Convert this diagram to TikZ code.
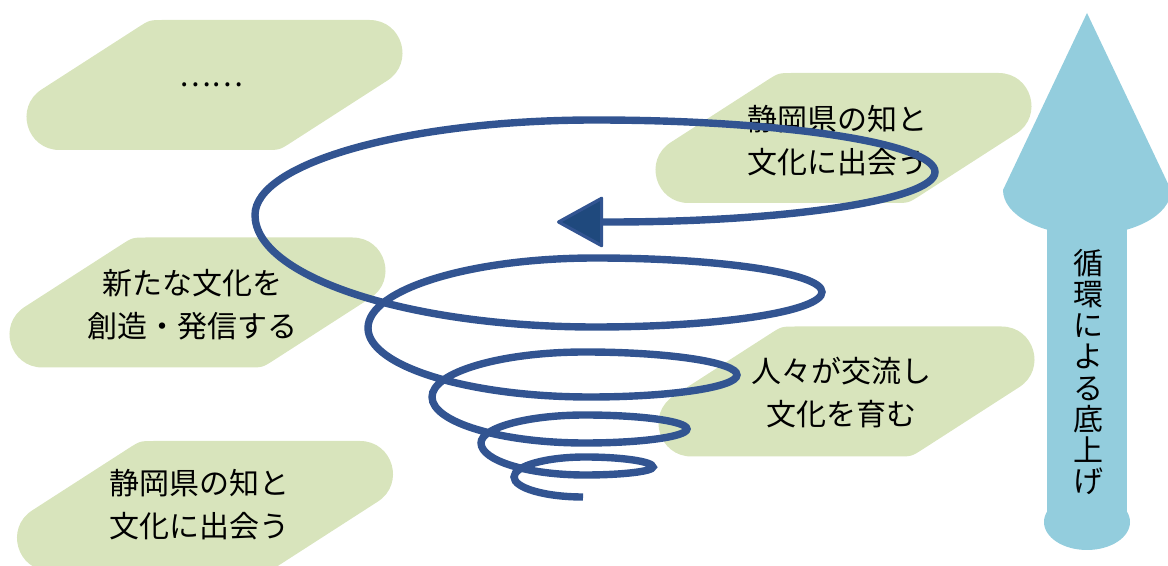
\documentclass[tikz,border=0pt]{standalone}
\usepackage{fontspec}
\setmainfont{Noto Sans CJK JP}
\usetikzlibrary{arrows.meta}
\definecolor{platefill}{RGB}{216,228,188}
\definecolor{upfill}{RGB}{147,205,221}
\definecolor{spiralblue}{RGB}{50,84,145}
\definecolor{tipfill}{RGB}{31,73,125}

\tikzset{
    plate/.pic={
        \fill[platefill] (-51,-65) -- (155,-65)
            .. controls (187.9,-65) and (200.5,-22.2) .. (172.8,-4.4)
            -- (76.8,57.4) .. controls (65,65) .. (51,65)
            -- (-155,65) .. controls (-187.9,65) and (-200.5,22.2) .. (-172.8,4.4)
            -- (-76.8,-57.4) .. controls (-65,-65) .. (-51,-65) -- cycle;
    },
    txt/.style={align=center,inner sep=0pt,font=\fontsize{15}{21.5}\selectfont},
    vtxt/.style={align=center,inner sep=0pt,font=\fontsize{15}{15.6}\selectfont},
    spiral/.style={line width=3.7pt,color=spiralblue}
}

\begin{document}
\begin{tikzpicture}[x=0.5pt,y=-0.5pt]
    \useasboundingbox (0,0) rectangle (1168,566);

    %plates
    \pic at (214.5,85) {plate};
    \pic at (843.5,138) {plate};
    \pic at (197.5,302.5) {plate};
    \pic at (205,506) {plate};
    \pic at (846.5,391.5) {plate};

    %nodes
    \node [txt] (dots) at (211,85) {……};
    \node [txt] (meettop) at (837,141) {静岡県の知と\\文化に出会う};
    \node [txt] (create) at (192,305) {新たな文化を\\創造・発信する};
    \node [txt] (meet) at (199,505) {静岡県の知と\\文化に出会う};
    \node [txt] (grow) at (841,393) {人々が交流し\\文化を育む};

    %spiral
    \draw [spiral,-{Triangle[length=24pt,width=26pt,line width=1.6pt,fill=tipfill,round]}]
        (583,497)
        .. controls +(-38,0) and +(0,11) .. (514,477)
        .. controls +(0,-11) and +(-39,0) .. (585,457)
        .. controls +(37,0) and +(0,-5.5) .. (653,467)
        .. controls +(0,4.4) and +(37,0) .. (585,475)
        .. controls +(-57,0) and +(0,17.6) .. (481,443)
        .. controls +(0,-15.4) and +(-57,0) .. (585,415)
        .. controls +(56,0) and +(0,-7.7) .. (687,429)
        .. controls +(0,7.7) and +(56,0) .. (585,443)
        .. controls +(-84,0) and +(0,25.3) .. (432,397)
        .. controls +(0,-24.8) and +(-84,0) .. (585,352)
        .. controls +(83.6,0) and +(0,-12.7) .. (737,375)
        .. controls +(0,12.1) and +(81,0) .. (590,397)
        .. controls +(-122,0) and +(0,38) .. (368,328)
        .. controls +(0,-38.5) and +(-125,0) .. (595,258)
        .. controls +(125,0) and +(0,-18.7) .. (822,292)
        .. controls +(0,19.3) and +(125,0) .. (595,327)
        .. controls +(-187,0) and +(0,61.6) .. (255,215)
        .. controls +(0,-52) and +(-187,0) .. (595,120)
        .. controls +(187,0) and +(0,-28.6) .. (935,172)
        .. controls +(0,27.5) and +(179,0) .. (610,222)
        -- (557,222);

    %upward arrow
    \fill [upfill] (1087,13) -- (1003,190)
        .. controls (1003,215) and (1040.6,235) .. (1087,235)
        .. controls (1133.4,235) and (1171,215) .. (1171,190) -- cycle;
    \fill [upfill] (1047,225) rectangle (1127,522);
    \fill [upfill] (1087,522) ellipse [x radius=43,y radius=28];
    \node [vtxt] (lift) at (1088,372) {循\\環\\に\\よ\\る\\底\\上\\げ};
\end{tikzpicture}
\end{document}
